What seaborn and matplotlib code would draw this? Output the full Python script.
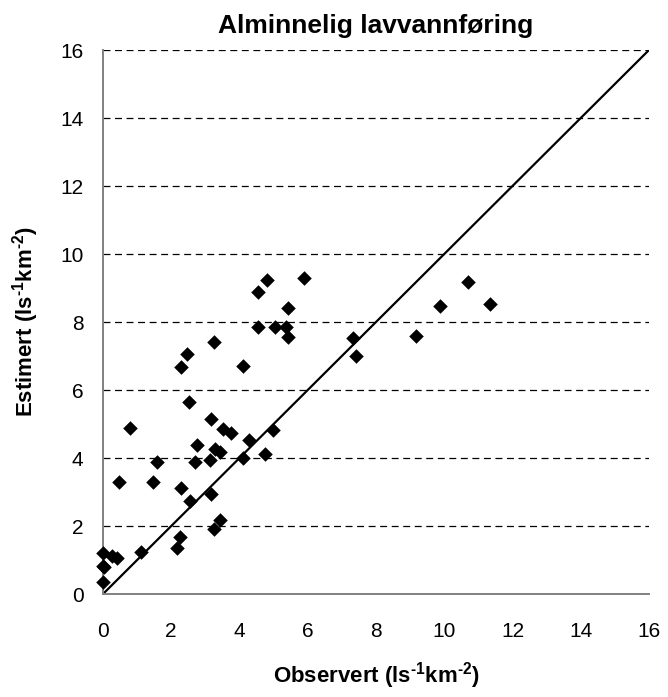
import matplotlib
matplotlib.use("Agg")
import matplotlib.pyplot as plt
import seaborn as sns
import pandas as pd

# Observed vs. estimated low-flow (alminnelig lavvannføring), l/s/km2
observert = [4.82, 4.53, 5.88, 5.41, 4.53, 5.04, 5.36, 5.41, 3.24, 2.47,
             2.29, 4.11, 2.52, 3.17, 0.80, 3.52, 3.76, 4.27, 4.99, 2.75,
             3.29, 3.42, 1.59, 2.71, 3.15, 4.11, 4.76, 0.48, 1.47, 2.29,
             2.55, 3.17, 3.43, 3.25, 2.25, 2.18, 1.11, 0.00, 0.26, 0.40,
             0.00, 0.02, 0.00, 7.34, 7.41, 9.16, 9.87, 10.70, 11.33]
estimert = [9.24, 8.89, 9.28, 8.40, 7.86, 7.86, 7.86, 7.57, 7.40, 7.06,
            6.67, 6.71, 5.64, 5.15, 4.87, 4.84, 4.73, 4.53, 4.82, 4.38,
            4.26, 4.19, 3.87, 3.89, 3.94, 3.99, 4.12, 3.29, 3.29, 3.11,
            2.75, 2.94, 2.17, 1.92, 1.68, 1.36, 1.23, 1.20, 1.12, 1.05,
            0.82, 0.78, 0.36, 7.54, 7.00, 7.59, 8.47, 9.19, 8.53]

# 1:1 reference line
linje = [0, 16]
ticks = [0, 2, 4, 6, 8, 10, 12, 14, 16]

sns.set_style("white", {"text.color": "black", "axes.labelcolor": "black",
                        "xtick.color": "black", "ytick.color": "black"})
plt.rcParams["font.family"] = ["Liberation Sans", "DejaVu Sans"]
plt.rcParams["mathtext.fontset"] = "custom"
plt.rcParams["mathtext.rm"] = "Liberation Sans:bold"
plt.rcParams["mathtext.it"] = "Liberation Sans:bold"
plt.rcParams["mathtext.bf"] = "Liberation Sans:bold"
plt.rcParams["lines.scale_dashes"] = False

fig = plt.figure(figsize=(6.68, 6.97), dpi=100)
ax = fig.add_axes([103 / 668, 1 - 594 / 697, 546 / 668, 544 / 697])

df = pd.DataFrame({"obs": observert, "est": estimert})

# horizontal dashed grid
for t in ticks[1:]:
    ax.axhline(t, color="black", lw=0.9, ls=(0, (5.0, 3.3)), zorder=1)

sns.lineplot(x=linje, y=linje, ax=ax, color="black", lw=1.6, zorder=2)
sns.scatterplot(data=df, x="obs", y="est", ax=ax, marker="D", s=55,
                color="black", edgecolor="black", linewidth=0, zorder=3,
                clip_on=False)

ax.set_xlim(0, 16)
ax.set_ylim(0, 16)
ax.set_xticks(ticks)
ax.set_yticks(ticks)
ax.tick_params(axis="both", direction="out", length=5, width=1.2,
               color="#808080", labelcolor="black", labelsize=15)
ax.tick_params(axis="x", pad=15)
ax.tick_params(axis="y", pad=9)

for side in ["top", "right"]:
    ax.spines[side].set_visible(False)
for side in ["left", "bottom"]:
    ax.spines[side].set_color("#808080")
    ax.spines[side].set_linewidth(1.4)

ax.set_title("Alminnelig lavvannføring", fontsize=19, fontweight="bold",
             color="black", pad=12)
ax.set_xlabel(r"Observert (ls$^{\text{-1}}$km$^{\text{-2}}$)", fontsize=16,
              fontweight="bold", color="black", labelpad=14)
ax.set_ylabel(r"Estimert (ls$^{\text{-1}}$km$^{\text{-2}}$)", fontsize=16,
              fontweight="bold", color="black", labelpad=14)

fig.savefig("out.png", dpi=100)
